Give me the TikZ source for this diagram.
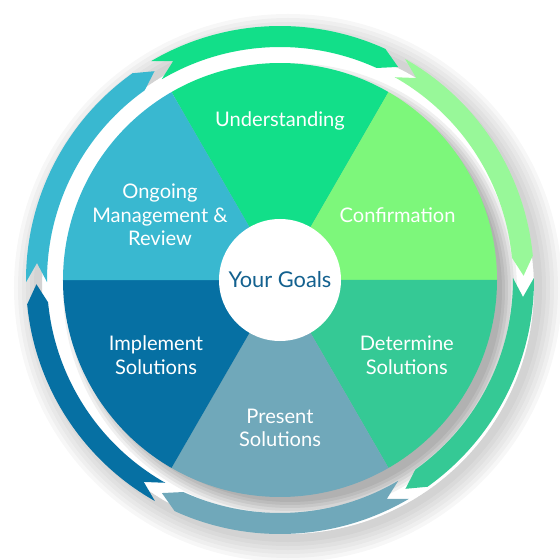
\documentclass[tikz,border=0pt]{standalone}
\usepackage{fontspec}
\setmainfont{Lato}
\usepackage{xcolor}
\usepackage{tikz}

\definecolor{understandCol}{HTML}{12DF89}
\definecolor{confirmCol}{HTML}{7DF77B}
\definecolor{confirmRing}{HTML}{98F899}
\definecolor{determineCol}{HTML}{35C995}
\definecolor{presentCol}{HTML}{70A8BA}
\definecolor{implementCol}{HTML}{0670A3}
\definecolor{ongoingCol}{HTML}{39B8D0}
\definecolor{goalsText}{HTML}{13618F}

\begin{document}
\begin{tikzpicture}[seglabel/.style={text=white, align=center, font=\fontsize{14.3}{16.8}\selectfont}]
\useasboundingbox (-7,-7) rectangle (7,7);

% Shadows
\foreach \k in {0,...,5}
  \fill[black, opacity=0.03, even odd rule, shift={(0.2,-0.2)}] (0,0) circle[radius=6.35+0.1*\k] (0,0) circle[radius=6.15];
\foreach \k in {0,...,5}
  \fill[black, opacity=0.06, shift={(0.25,-0.25)}] (0,0) circle[radius=5.3+0.075*\k];

% Segments
\foreach \a/\col in {60/understandCol, 0/confirmCol, -60/determineCol, -120/presentCol, 180/implementCol, 120/ongoingCol}
  \fill[\col] (0,0) -- (\a:5.425) arc[start angle=\a, end angle=\a+60, radius=5.425] -- cycle;

% Arrows
\foreach \a/\col in {120.5/understandCol, 60.5/confirmRing, 0.5/determineCol, -59.5/presentCol, -119.5/implementCol, 180.5/ongoingCol}
  \fill[\col] (\a:6.35) arc[start angle=\a, end angle=\a-55, radius=6.35] -- ({\a-59.5}:6.09)
    -- ({\a-55}:5.825) arc[start angle=\a-55, end angle=\a, radius=5.825] -- ({\a-4.5}:6.09) -- cycle;

% Labels
\node[circle, fill=white, minimum size=3.05cm, inner sep=0pt, text=goalsText, font=\fontsize{15.5}{18}\selectfont] (goals) at (0,0) {Your Goals};
\node[seglabel] (understanding) at (0,3.975) {Understanding};
\node[seglabel] (confirmation) at (2.94,1.625) {Confirmation};
\node[seglabel] (determine) at (3.17,-1.875) {Determine\\Solutions};
\node[seglabel] (present) at (0,-3.7) {Present\\Solutions};
\node[seglabel] (implement) at (-3.1,-1.875) {Implement\\Solutions};
\node[seglabel] (ongoing) at (-3.0,1.625) {Ongoing\\Management \&\\Review};

\end{tikzpicture}
\end{document}
